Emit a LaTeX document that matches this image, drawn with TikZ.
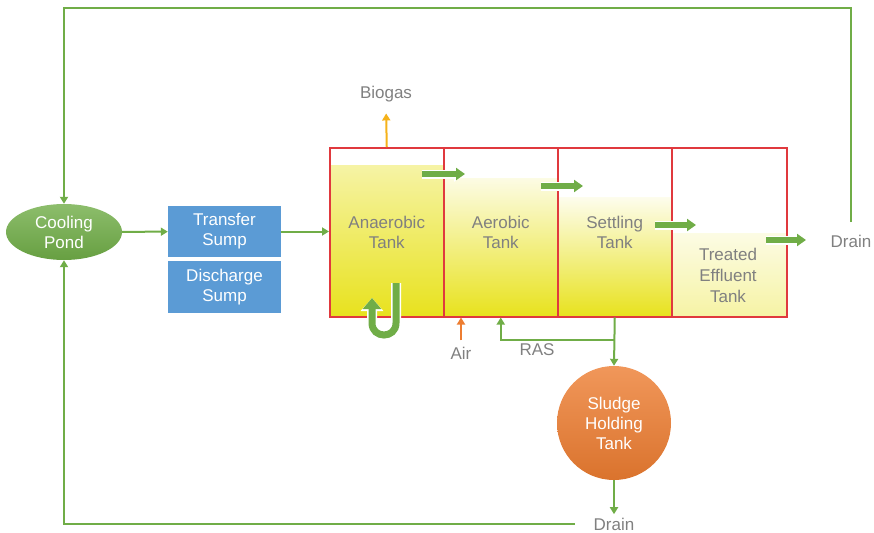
\documentclass[tikz,border=0pt]{standalone}
\usepackage{fontspec}
\setmainfont{Liberation Sans}
\usetikzlibrary{arrows.meta,shapes.geometric,calc}
\definecolor{gr}{HTML}{70AD47}
\definecolor{bl}{HTML}{5B9BD5}
\definecolor{rd}{HTML}{E0393E}
\definecolor{og}{HTML}{ED7D31}
\definecolor{tx}{HTML}{808080}
\definecolor{yl}{RGB}{232,226,30}
\definecolor{amb}{HTML}{F5B21A}
\begin{document}
\begin{tikzpicture}[x=1pt,y=-1pt,font=\fontsize{17}{20}\selectfont,
  lbl/.style={text=tx,align=center},
  arr/.style={gr,line width=2pt,-{Triangle[width=8pt,length=7pt]}},
  oarr/.style={line width=2pt,-{Triangle[width=8pt,length=7pt]}},
  flow/.style={gr,line width=6.5pt,-{Triangle[width=12pt,length=9pt]},
    preaction={draw=white,line width=9pt,-{Triangle[width=15pt,length=11pt]}}},
  tank/.style={draw=rd,line width=1.5pt,minimum width=114pt,minimum height=169pt,
    inner sep=0pt,anchor=north west,text=tx,align=center},
  sump/.style={fill=bl,minimum width=113pt,text=white,align=center,inner sep=0pt}]
\useasboundingbox (0,0) rectangle (874,532);
% liquid levels
\shade[top color=yl!40!white,bottom color=yl] (329,165) rectangle (443,316);
\shade[top color=yl!12!white,bottom color=yl] (443,178) rectangle (557,316);
\shade[top color=yl!8!white,middle color=yl!25!white,bottom color=yl] (557,197) rectangle (671,316);
\shade[top color=yl!12!white,bottom color=yl!40!white] (671,233) rectangle (786,316);
% tanks
\node[tank] (t1) at (329,147) {Anaerobic\\Tank};
\node[tank] (t2) at (443,147) {Aerobic\\Tank};
\node[tank] (t3) at (557,147) {Settling\\Tank};
\node[tank,minimum width=115pt] (t4) at (671,147) {};
\node[lbl,font=\fontsize{17}{21}\selectfont] (t4l) at (728,275) {Treated\\Effluent\\Tank};
% other nodes
\node[ellipse,minimum width=116pt,minimum height=56pt,inner sep=0pt,
  top color=gr!80!white,bottom color=gr!92!black,text=white,align=center] (pond) at (64,232) {Cooling\\Pond};
\node[sump,minimum height=51pt] (ts) at (224.5,231.5) {Transfer\\Sump};
\node[sump,minimum height=52pt] (ds) at (224.5,287) {Discharge\\Sump};
\node[circle,minimum size=114pt,inner sep=0pt,top color=og!80!white,bottom color=og!92!black,
  text=white,align=center] (sl) at (614,423) {Sludge\\Holding\\Tank};
\node[lbl] (drain1) at (851,241) {Drain};
\node[lbl] (drain2) at (614,524) {Drain};
\node[lbl] (bio) at (386,94) {Biogas};
\node[lbl] (air) at (461,353) {Air};
\node[lbl] (ras) at (537,350) {RAS};
% coordinates
\coordinate (tr) at (851,8);
\coordinate (tl) at (64,8);
\coordinate (bl) at (64,524);
\coordinate (rasj) at (614,340);
\coordinate (f1a) at (422,174); \coordinate (f1b) at (465,174);
\coordinate (f2a) at (541,186); \coordinate (f2b) at (583,186);
\coordinate (f3a) at (655,225); \coordinate (f3b) at (696,225);
\coordinate (f4a) at (766,240); \coordinate (f4b) at (806,240);
% connectors
\draw[arr,shorten <=9pt] (drain1.north) -- (tr) -- (tl) -- (pond.north);
\draw[arr,shorten <=15pt] (drain2.west) -- (bl) -- (pond.south);
\draw[arr] (pond) -- (ts);
\draw[arr] (ts.east) -- (ts.east -| t1.west);
\draw[amb,oarr,shorten >=8pt] (t1.north) -- (bio.south);
\draw[og,oarr,shorten <=3pt] (air.north) -- (air.north |- t2.south);
\draw[arr] (t3.south) -- (sl.north);
\draw[arr] (rasj) -| (t2.south);
\draw[arr] (sl.south) -- (drain2.north);
\draw[flow] (f1a) -- (f1b);
\draw[flow] (f2a) -- (f2b);
\draw[flow] (f3a) -- (f3b);
\draw[flow] (f4a) -- (f4b);
% recirculation U-arrow
\coordinate (ua) at (396,283);
\coordinate (ub) at (372,298);
\draw[gr,line width=7pt,-{Triangle[width=18pt,length=11pt]},
  preaction={draw=white,line width=10pt,-{Triangle[width=22pt,length=13pt]}}]
  (ua) -- (396,323) .. controls (396,339) and (372,339) .. (372,323) -- (ub);
\end{tikzpicture}
\end{document}
